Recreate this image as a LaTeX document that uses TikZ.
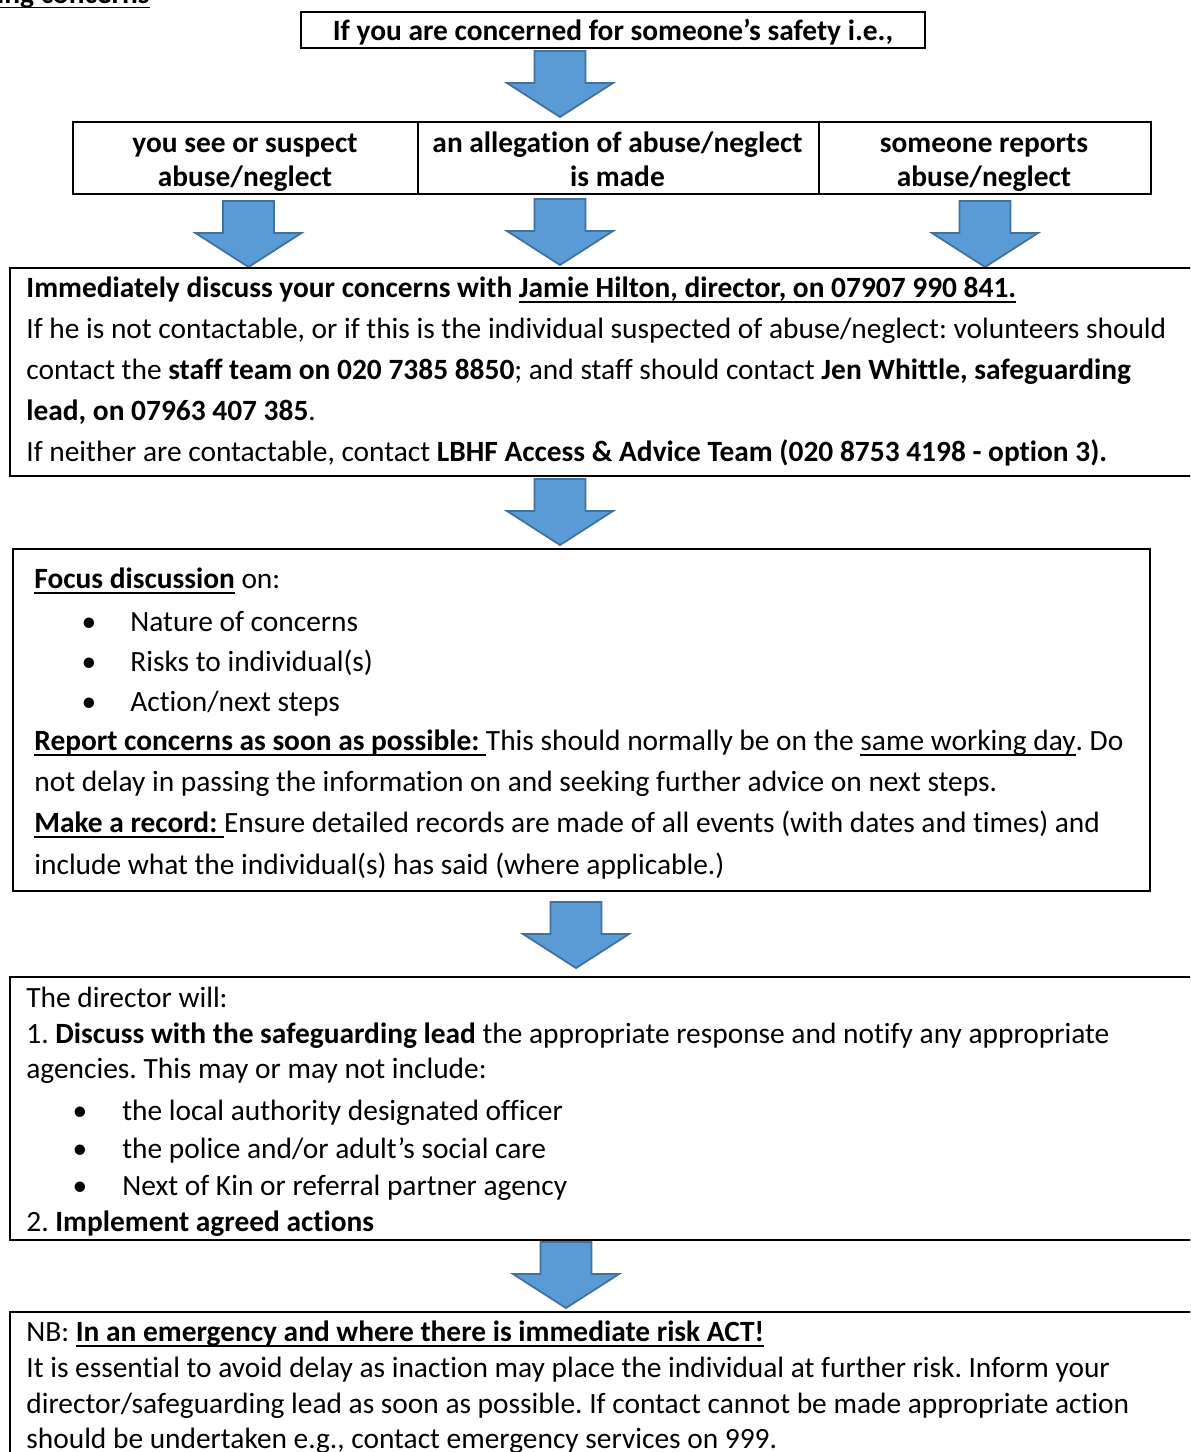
\documentclass[tikz,border=0pt]{standalone}
\usepackage{fontspec}
\setmainfont{Carlito}[Ligatures=NoCommon]
\usetikzlibrary{fit}
\frenchspacing
\newcommand{\ulx}[1]{\setbox0\hbox{#1}\rlap{\rule[-2.7pt]{\wd0}{0.95pt}}\box0}
\definecolor{arrowfill}{HTML}{5B9BD5}
\definecolor{arrowdraw}{HTML}{41719C}
\tikzset{
  box/.style={draw=black, line width=1.1pt, inner sep=0pt},
  txt/.style={inner sep=0pt, anchor=base west, font=\fontsize{14.7}{17}\selectfont\frenchspacing},
  ctxt/.style={inner sep=0pt, anchor=base, font=\fontsize{14.7}{17}\selectfont\bfseries},
  bul/.style={inner sep=0pt, anchor=base, font=\fontsize{14.7}{17}\selectfont},
  blockarrow/.pic={
    \draw[fill=arrowfill, draw=arrowdraw, line width=0.9pt, line join=miter]
      (-25.5,0) -- (25.5,0) -- (25.5,32) -- (53,32) -- (0,66) -- (-53,32) -- (-25.5,32) -- cycle;
  }
}
\begin{document}
\begin{tikzpicture}[x=0.5pt,y=-0.5pt]
\useasboundingbox (0,0) rectangle (1190,1452);
\clip (0,0) rectangle (1190,1452);

% heading fragment (cut off at the top edge, as in the reference)
\node[txt, anchor=base east] (head) at (150,3) {\textbf{\ulx{ing concerns}}};

% top box
\node[box, fit={(301,12)(925,48)}] (top) {};
\node[ctxt] (toptxt) at (613,40) {If you are concerned for someone’s safety i.e.,};
\path (560,51) pic {blockarrow};

% three boxes
\node[box, fit={(73,122)(418,194)}] (ba) {};
\node[box, fit={(418,122)(819,194)}] (bb) {};
\node[box, fit={(819,122)(1151,194)}] (bc) {};
\node[ctxt] (ba1) at (245,152) {you see or suspect};
\node[ctxt] (ba2) at (245,186) {abuse/neglect};
\node[ctxt] (bb1) at (617.5,152) {an allegation of abuse/neglect};
\node[ctxt] (bb2) at (617.5,186) {is made};
\node[ctxt] (bc1) at (984,152) {someone reports};
\node[ctxt] (bc2) at (984,186) {abuse/neglect};
\path (248.5,201) pic {blockarrow};
\path (560,199) pic {blockarrow};
\path (985,201) pic {blockarrow};

% box 3
\node[box, fit={(10,268)(1200,476)}] (b3) {};
\node[txt] (l31) at (26,297.5) {\textbf{Immediately discuss your concerns with \ulx{Jamie Hilton, director, on 07907 990 841.}}};
\node[txt] (l32) at (26,338.5) {If he is not contactable, or if this is the individual suspected of abuse/neglect: volunteers should};
\node[txt] (l33) at (26,379.5) {contact the \textbf{staff team on 020 7385 8850}; and staff should contact \textbf{Jen Whittle, safeguarding}};
\node[txt] (l34) at (26,420.5) {\textbf{lead, on 07963 407 385}.};
\node[txt] (l35) at (26,461.5) {If neither are contactable, contact \textbf{LBHF Access \& Advice Team (020 8753 4198 - option 3).}};
\path (560,479) pic {blockarrow};

% box 4
\node[box, fit={(13,549)(1150,891)}] (b4) {};
\node[txt] (l41) at (34,588.5) {\textbf{\ulx{Focus discussion}} on:};
\node[bul] (d41) at (89,631.5) {•};
\node[txt] (l42) at (130,631.5) {Nature of concerns};
\node[bul] (d42) at (89,671.5) {•};
\node[txt] (l43) at (130,671.5) {Risks to individual(s)};
\node[bul] (d43) at (89,711.5) {•};
\node[txt] (l44) at (130,711.5) {Action/next steps};
\node[txt] (l45) at (34,750.5) {\textbf{\ulx{Report concerns as soon as possible:\ }}This should normally be on the \ulx{same working day}. Do};
\node[txt] (l46) at (34,791.5) {not delay in passing the information on and seeking further advice on next steps.};
\node[txt] (l47) at (34,832.5) {\textbf{\ulx{Make a record:\ }}Ensure detailed records are made of all events (with dates and times) and};
\node[txt] (l48) at (34,874.5) {include what the individual(s) has said (where applicable.)};
\path (576,902) pic {blockarrow};

% box 5
\node[box, fit={(10,977)(1200,1240)}] (b5) {};
\node[txt] (l51) at (26,1007.5) {The director will:};
\node[txt] (l52) at (26,1043.5) {1. \textbf{Discuss with the safeguarding lead} the appropriate response and notify any appropriate};
\node[txt] (l53) at (26,1078.5) {agencies. This may or may not include:};
\node[bul] (d51) at (80,1120.5) {•};
\node[txt] (l54) at (122,1120.5) {the local authority designated officer};
\node[bul] (d52) at (80,1158.5) {•};
\node[txt] (l55) at (122,1158.5) {the police and/or adult’s social care};
\node[bul] (d53) at (80,1195.5) {•};
\node[txt] (l56) at (122,1195.5) {Next of Kin or referral partner agency};
\node[txt] (l57) at (26,1231.5) {2. \textbf{Implement agreed actions}};
\path (566,1242) pic {blockarrow};

% box 6
\node[box, fit={(10,1312)(1200,1470)}] (b6) {};
\node[txt] (l61) at (26,1341.5) {NB: \textbf{\ulx{In an emergency and where there is immediate risk ACT!}}};
\node[txt] (l62) at (26,1377.5) {It is essential to avoid delay as inaction may place the individual at further risk. Inform your};
\node[txt] (l63) at (26,1413.5) {director/safeguarding lead as soon as possible. If contact cannot be made appropriate action};
\node[txt] (l64) at (26,1448) {should be undertaken e.g., contact emergency services on 999.};
\end{tikzpicture}
\end{document}
